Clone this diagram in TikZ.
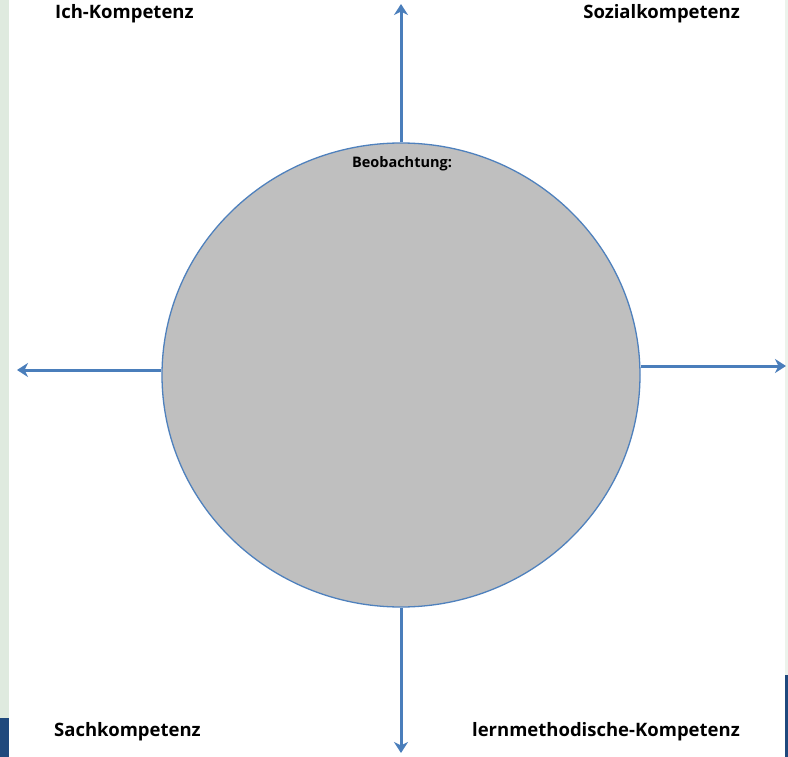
\documentclass[tikz,border=0pt]{standalone}
\usepackage{fontspec}
\setmainfont{Open Sans}
\usetikzlibrary{shapes.geometric,arrows.meta}
\definecolor{stripgreen}{HTML}{DFEADF}
\definecolor{stripblue}{HTML}{1F497D}
\definecolor{ringblue}{HTML}{4F81BD}
\definecolor{arrowblue}{HTML}{4A7EBB}
\definecolor{discgrey}{HTML}{BFBFBF}
\tikzset{
  label/.style={font=\fontsize{18.5}{22}\selectfont\bfseries, text=black, inner sep=0pt},
  arr/.style={draw=arrowblue, line width=3pt, -{Stealth[length=11pt,width=14pt,inset=3.5pt]}},
  disc/.style={ellipse, draw=ringblue, line width=1.3pt, fill=discgrey, minimum width=478pt, minimum height=464pt, inner sep=0pt}
}
\begin{document}
\begin{tikzpicture}[x=1pt,y=-1pt]
\fill[white] (0,0) rectangle (788,757);
\useasboundingbox (0,0) rectangle (788,757);
% side strips
\fill[stripgreen] (0,0) rectangle (9,718);
\fill[stripblue] (0,718) rectangle (9,757);
\fill[stripgreen!60] (785,0) rectangle (788,675);
\fill[stripblue] (785,675) rectangle (788,757);
% disc
\node[disc] (c) at (401,375) {};
\node[font=\fontsize{14.5}{17}\selectfont\bfseries, text=black, inner sep=0pt, anchor=base] (obs) at (402,168) {Beobachtung:};
% arrow ends
\coordinate (top) at (401,4);
\coordinate (bot) at (401,753);
\coordinate (lft) at (17,370);
\coordinate (rgt) at (786,366);
\draw[arr] (c.north) -- (top);
\draw[arr] (c.south) -- (bot);
\draw[arr] ([yshift=5pt]c.west) -- (lft);
\draw[arr] ([yshift=9pt]c.east) -- (rgt);
% labels
\node[label, anchor=base west] (ich) at (55,19) {Ich-Kompetenz};
\node[label, anchor=base east] (soz) at (740,19) {Sozialkompetenz};
\node[label, anchor=base west] (sach) at (54,736) {Sachkompetenz};
\node[label, anchor=base east] (lern) at (740,736) {lernmethodische-Kompetenz};
\end{tikzpicture}
\end{document}
